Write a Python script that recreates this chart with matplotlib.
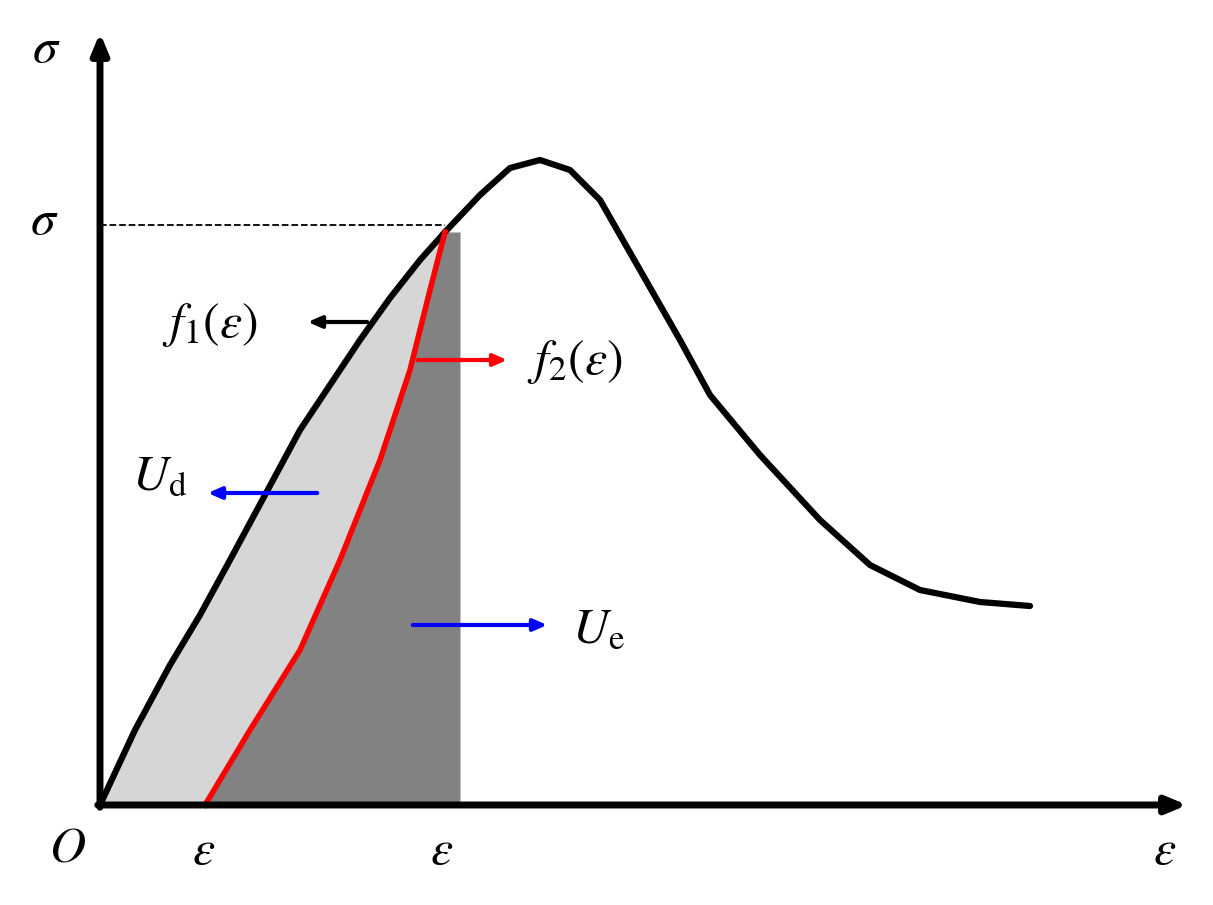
import numpy as np
import matplotlib.pyplot as plt

plt.rcParams['mathtext.fontset'] = 'stix'

# schematic curves, read in picture coordinates (x right, y down)
f1_x = [100, 135, 170, 200, 230, 265, 300, 330, 360, 390, 420, 445, 480, 510, 540, 570, 600, 640, 680, 710, 760, 820, 870, 920, 980, 1030]
f1_y = [805, 730, 665, 615, 560, 495, 430, 385, 340, 298, 260, 232, 195, 168, 160, 170, 200, 270, 340, 395, 455, 520, 565, 590, 602, 606]
f2_x = [205, 250, 300, 340, 380, 410, 430, 445]
f2_y = [805, 730, 650, 560, 460, 370, 290, 232]
eps_p, eps_pp, sig_p = 460, 205, 225

fig = plt.figure(figsize=(12.13, 9.05), dpi=100)
ax = fig.add_axes([0, 0, 1, 1])
ax.set_xlim(0, 1213)
ax.set_ylim(905, 0)
ax.axis('off')

# U_d region: between f1 and f2
xs = np.linspace(100, 445, 300)
top = np.interp(xs, f1_x, f1_y)
bot = np.where(xs < eps_pp, 805, np.interp(xs, f2_x, f2_y))
ax.fill_between(xs, top, bot, color='#d6d6d6', lw=0)
# U_e region: between f2 and eps'
xs2 = np.linspace(eps_pp, eps_p, 300)
top2 = np.where(xs2 <= 445, np.interp(xs2, f2_x, f2_y), sig_p + 7)
ax.fill_between(xs2, top2, 805, color='#828282', lw=0)

ax.plot(f1_x, f1_y, color='black', lw=4.5, solid_capstyle='round', solid_joinstyle='round')
ax.plot(f2_x, f2_y, color='red', lw=4, solid_joinstyle='round')
ax.plot([100, 445], [sig_p, sig_p], 'k--', lw=1.3)

# axes arrows
ax.annotate('', xy=(1190, 805), xytext=(95, 805),
            arrowprops=dict(arrowstyle='-|>,head_width=0.5,head_length=1.2', lw=5, color='black'))
ax.annotate('', xy=(100, 30), xytext=(100, 810),
            arrowprops=dict(arrowstyle='-|>,head_width=0.5,head_length=1.2', lw=5, color='black'))

fs = 36
it = dict(fontsize=fs, ha='center', va='center', family='STIXGeneral', style='italic')
ax.text(45, 50, 'σ', **it)
ax.text(50, 222, 'σ′', **it)
ax.text(68, 850, 'O', **it)
ax.text(210, 852, 'ε″', **it)
ax.text(448, 852, 'ε′', **it)
ax.text(1165, 852, 'ε', **it)

def arrow(x0, y0, x1, y1, c):
    ax.annotate('', xy=(x1, y1), xytext=(x0, y0),
                arrowprops=dict(arrowstyle='-|>,head_width=0.35,head_length=0.8', lw=3, color=c))

arrow(370, 322, 305, 322, 'black')
ax.text(210, 325, r'$f_1(\varepsilon)$', fontsize=fs, ha='center', va='center')
arrow(415, 360, 510, 360, 'red')
ax.text(575, 362, r'$f_2(\varepsilon)$', fontsize=fs, ha='center', va='center')
arrow(320, 493, 205, 493, 'blue')
ax.text(160, 475, r'$U_{\rm d}$', fontsize=fs, ha='center', va='center')
arrow(410, 625, 550, 625, 'blue')
ax.text(598, 628, r'$U_{\rm e}$', fontsize=fs, ha='center', va='center')

fig.savefig('out.png', dpi=100)
